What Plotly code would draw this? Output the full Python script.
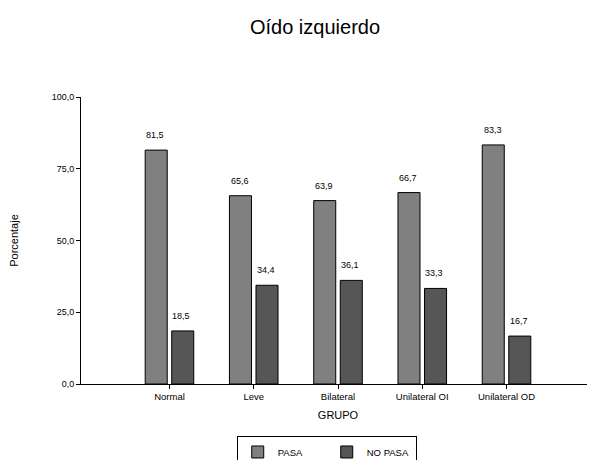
import plotly.graph_objects as go

grupos = ["Normal", "Leve", "Bilateral", "Unilateral OI", "Unilateral OD"]
pasa = [81.5, 65.6, 63.9, 66.7, 83.3]
no_pasa = [18.5, 34.4, 36.1, 33.3, 16.7]
y_ticks = [0, 25, 50, 75, 100]

fmt = lambda v: f"{v:.1f}".replace(".", ",")

fig = go.Figure()
fig.add_trace(go.Bar(name="PASA", x=grupos, y=pasa,
                     marker=dict(color="#808080", line=dict(color="#000000", width=1))))
fig.add_trace(go.Bar(name="NO PASA", x=grupos, y=no_pasa,
                     marker=dict(color="#565656", line=dict(color="#000000", width=1))))

for vals, xs in ((pasa, -14), (no_pasa, 12)):
    for g, v in zip(grupos, vals):
        fig.add_annotation(x=g, y=v, text=fmt(v), showarrow=False, xshift=xs,
                           yanchor="bottom", yshift=8,
                           font=dict(family="Arial, Liberation Sans", size=9, color="#000"))

# page has an 8px body margin: figure drawn at (8,8)
fig.update_layout(
    width=587, height=452,
    separators=",.",
    paper_bgcolor="white", plot_bgcolor="white",
    margin=dict(l=73, r=0, t=89, b=76),
    barmode="group", bargap=0.37, bargroupgap=0.17,
    font=dict(family="Arial, Liberation Sans", color="#000"),
    title=dict(text="Oído izquierdo", x=0.523, xref="container", xanchor="center",
               y=0.958, yref="container", yanchor="middle",
               font=dict(size=20, family="Arial, Liberation Sans", color="#000")),
    showlegend=True,
    legend=dict(orientation="h", x=0.543, xref="container", xanchor="center",
                y=0.052, yref="container", yanchor="top",
                bordercolor="#000", borderwidth=1, bgcolor="white",
                font=dict(size=9.5), entrywidth=44, entrywidthmode="pixels",
                itemwidth=30, tracegroupgap=0),
)
fig.update_xaxes(range=[-1.05, 5.05], showline=True, linecolor="#000", linewidth=1,
                 ticks="outside", ticklen=4, tickcolor="#000", showgrid=False,
                 tickfont=dict(size=9.5), title=dict(text="GRUPO", font=dict(size=11), standoff=9))
fig.update_yaxes(range=[0, 100], tickvals=y_ticks, tickformat=".1f", showline=True,
                 linecolor="#000", linewidth=1, ticks="outside", ticklen=4, tickcolor="#000",
                 showgrid=False, zeroline=False, tickfont=dict(size=9),
                 title=dict(text="Porcentaje", font=dict(size=11), standoff=30))

fig.write_html("out.html")
